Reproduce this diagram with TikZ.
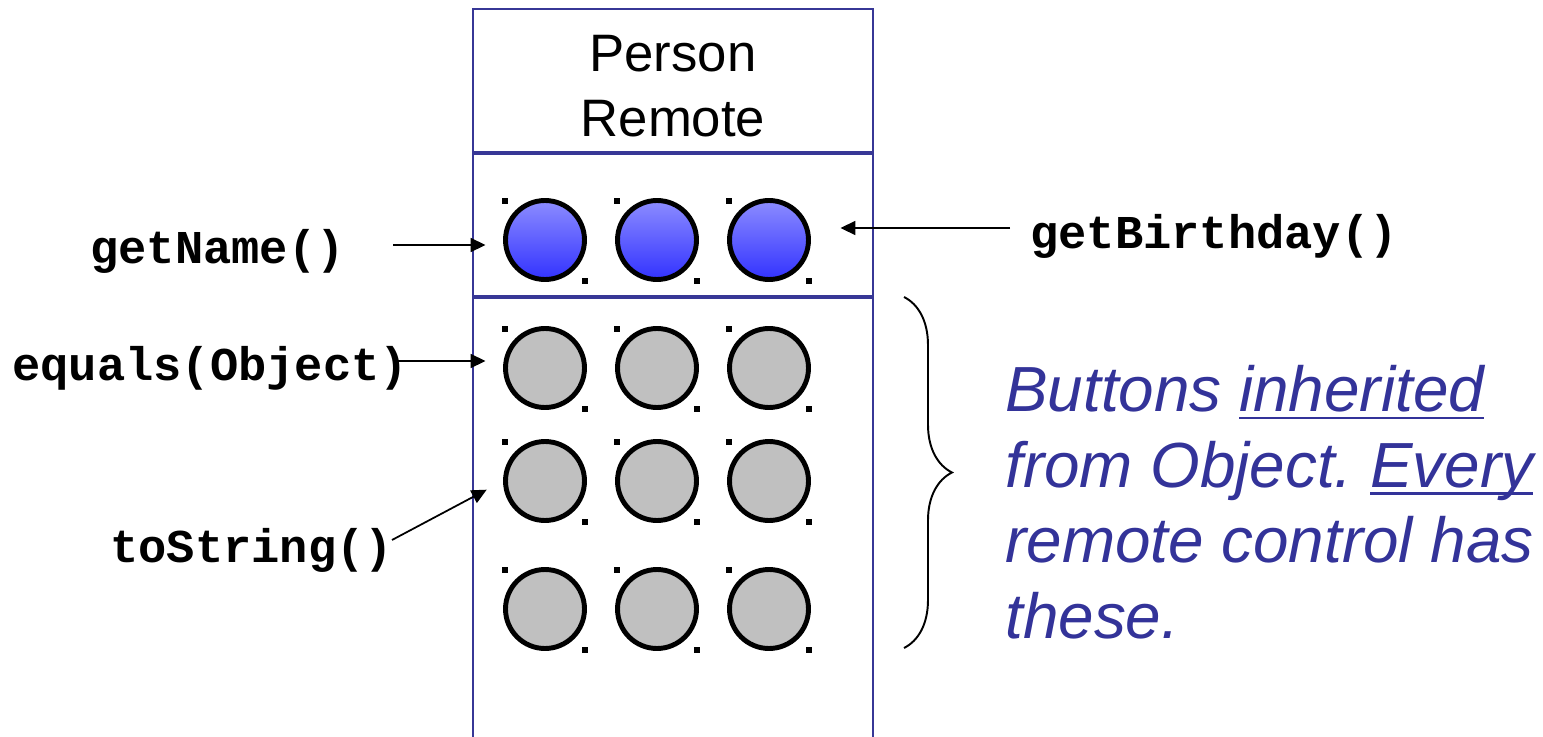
\documentclass[tikz,border=0pt]{standalone}
\usepackage{fontspec}
\setmainfont{Liberation Sans}
\setmonofont{Liberation Mono}
\usepackage{tikz}
\usetikzlibrary{arrows.meta,positioning,calc,decorations.pathreplacing}

\definecolor{frameblue}{RGB}{55,55,150}
\definecolor{noteblue}{RGB}{51,51,153}
\definecolor{btntop}{RGB}{140,140,255}
\definecolor{btnbot}{RGB}{50,50,255}
\definecolor{btngray}{RGB}{192,192,192}

% underline at a fixed depth, through the descenders
\newcommand\ulword[1]{\setbox0\hbox{#1}%
  \rlap{\vrule height -3pt depth 4.3pt width \wd0}\box0}

\begin{document}
\frenchspacing
\begin{tikzpicture}[
  x=0.02cm, y=-0.02cm,
  btn/.style={circle, draw=black, line width=2.8pt, inner sep=0pt,
    minimum size=1.58cm},
  btnblue/.style={btn, top color=btntop, bottom color=btnbot},
  btngrey/.style={btn, fill=btngray},
  method/.style={font=\ttfamily\bfseries\fontsize{26.8}{30}\selectfont,
    inner sep=0pt, anchor=base west},
  arr/.style={-{Triangle[length=0.3cm,width=0.28cm]}, line width=1pt},
  frame/.style={draw=frameblue, line width=1.2pt},
  divider/.style={draw=frameblue, line width=2pt}
]
\useasboundingbox (0,0) rectangle (1543,737);

% remote control body
\draw[frame] (473,737) -- (473,9) -- (873,9) -- (873,737);
\draw[divider] (473,153) -- (873,153);
\draw[divider] (473,297) -- (873,297);
\node[font=\fontsize{30}{37}\selectfont, align=center, inner sep=0pt,
  anchor=north] (title) at (673,35) {Person\\Remote};

% own buttons
\foreach \x [count=\i] in {545,657,769} {
  \node[btnblue] (b\i) at (\x,240) {};
  \fill (\x-43,198) rectangle (\x-37,204);
  \fill (\x+37,278) rectangle (\x+43,284);
}

% inherited buttons
\foreach \y [count=\r] in {368,481,609} {
  \foreach \x [count=\i] in {545,657,769} {
    \node[btngrey] (g\r\i) at (\x,\y) {};
    \fill (\x-43,\y-42) rectangle (\x-37,\y-36);
    \fill (\x+37,\y+38) rectangle (\x+43,\y+44);
  }
}

% method labels
\node[method] (getname) at (90,263) {getName()};
\node[method] (equals) at (12,380) {equals(Object)};
\node[method] (tostring) at (110,562) {toString()};
\node[method] (birthday) at (1030,248) {getBirthday()};

\coordinate (nameTail) at (393,245);
\coordinate (eqTail) at (398,361);
\coordinate (strTail) at (392,540);
\coordinate (bdTail) at (1010,228);

\draw[arr, shorten >=0.35cm] (nameTail) -- (nameTail -| b1.west);
\draw[arr, shorten >=0.35cm] (eqTail) -- (eqTail -| g11.west);
\draw[arr, shorten >=0.37cm] (strTail) -- (g21.west);
\draw[arr, shorten >=0.59cm] (bdTail) -- (bdTail -| b3.east);

% brace and note
\coordinate (braceTop) at (904,297);
\coordinate (braceBot) at (904,648);
\draw[line width=1.1pt, decorate, decoration={brace, amplitude=0.96cm}]
  (braceTop) -- (braceBot);
\node[text=noteblue, font=\itshape\fontsize{36.3}{43}\selectfont,
  align=left, inner sep=0pt, anchor=north west] (note) at (1005,365)
  {Buttons \ulword{inherited}\\from Object. \ulword{Every}\\
   remote control has\\these.};
\end{tikzpicture}
\end{document}
